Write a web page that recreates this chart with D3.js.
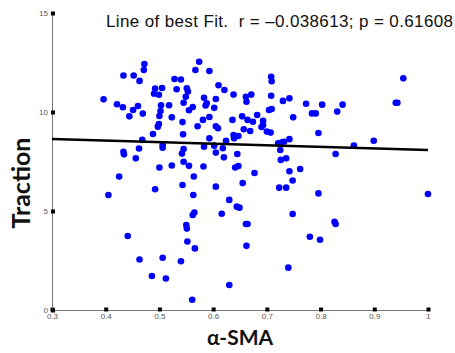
<!DOCTYPE html>
<html>
<head>
<meta charset="utf-8">
<script src="https://cdn.jsdelivr.net/npm/d3@7"></script>
<style>
  body { margin: 0; background: #fff; }
  svg { display: block; }
</style>
</head>
<body>
<div id="chart"></div>
<script>
// alpha-SMA (x) vs traction (y), one entry per cell
var smaValues = [
  0.396, 0.405, 0.421, 0.425, 0.432, 0.433, 0.433, 0.434, 0.441, 0.444,
  0.451, 0.452, 0.456, 0.460, 0.462, 0.463, 0.463, 0.468, 0.469, 0.472,
  0.471, 0.486, 0.488, 0.490, 0.492, 0.492, 0.497, 0.499, 0.500, 0.499,
  0.500, 0.503, 0.502, 0.505, 0.506, 0.506, 0.506, 0.512, 0.518, 0.523,
  0.523, 0.528, 0.532, 0.540, 0.540, 0.543, 0.543, 0.544, 0.542, 0.545,
  0.545, 0.545, 0.549, 0.550, 0.551, 0.551, 0.553, 0.552, 0.555, 0.555,
  0.562, 0.561, 0.562, 0.564, 0.563, 0.565, 0.566, 0.567, 0.571, 0.574,
  0.581, 0.582, 0.583, 0.583, 0.588, 0.586, 0.593, 0.593, 0.593, 0.602,
  0.602, 0.605, 0.605, 0.605, 0.605, 0.609, 0.610, 0.616, 0.618, 0.620,
  0.621, 0.624, 0.630, 0.630, 0.636, 0.638, 0.638, 0.639, 0.641, 0.644,
  0.645, 0.647, 0.647, 0.649, 0.654, 0.655, 0.657, 0.661, 0.662, 0.661,
  0.664, 0.662, 0.664, 0.669, 0.671, 0.674, 0.677, 0.682, 0.690, 0.693,
  0.693, 0.700, 0.707, 0.704, 0.709, 0.708, 0.709, 0.708, 0.721, 0.728,
  0.732, 0.723, 0.725, 0.726, 0.730, 0.736, 0.736, 0.740, 0.742, 0.742,
  0.742, 0.748, 0.748, 0.749, 0.762, 0.773, 0.780, 0.784, 0.791, 0.796,
  0.796, 0.799, 0.803, 0.826, 0.828, 0.828, 0.831, 0.841, 0.862, 0.899,
  0.940, 0.943, 0.954, 1.000
];
var tractionValues = [
  10.64, 5.81, 10.39, 6.74, 10.24, 11.84, 7.99, 7.86, 3.74, 9.78,
  10.10, 11.84, 7.66, 10.30, 8.16, 11.57, 2.55, 8.59, 9.92, 12.42,
  12.12, 1.72, 8.89, 10.92, 11.19, 6.10, 9.26, 10.87, 9.80, 9.39,
  7.20, 10.34, 10.05, 11.21, 8.33, 8.20, 2.64, 1.59, 10.34, 9.73,
  7.30, 11.67, 11.15, 11.64, 2.46, 6.31, 9.49, 8.87, 7.90, 8.13,
  10.47, 7.49, 10.77, 4.29, 4.11, 11.20, 11.03, 3.46, 7.28, 10.09,
  10.25, 0.52, 4.80, 6.74, 5.81, 4.92, 3.11, 12.12, 9.28, 12.54,
  9.60, 7.25, 8.25, 10.72, 10.44, 10.33, 12.07, 9.75, 8.67, 10.21,
  8.30, 7.95, 10.66, 6.23, 9.28, 9.18, 11.35, 4.86, 8.17, 7.71,
  11.11, 8.55, 5.56, 1.26, 9.60, 10.88, 8.84, 8.67, 7.20, 5.22,
  7.88, 8.79, 7.27, 5.17, 9.78, 6.41, 9.13, 10.77, 10.52, 4.34,
  4.34, 3.24, 9.60, 9.04, 10.88, 9.51, 6.92, 9.85, 9.24, 9.56,
  9.34, 9.01, 8.96, 10.10, 10.15, 11.78, 11.55, 10.82, 8.42, 8.47,
  8.50, 6.18, 8.08, 7.58, 10.56, 7.66, 6.18, 2.14, 10.69, 8.63,
  7.01, 6.54, 4.85, 9.73, 7.12, 10.42, 3.70, 9.93, 9.93, 8.94,
  5.89, 3.55, 10.37, 4.46, 4.34, 7.88, 10.02, 10.37, 8.30, 8.55,
  10.47, 10.47, 11.70, 5.86
];

// line of best fit, read at both ends of the x range
var fitX = [0.3, 1.0];
var fitY = [8.64, 8.08];

var xTicks = [0.3, 0.4, 0.5, 0.6, 0.7, 0.8, 0.9, 1];
var yTicks = [0, 5, 10, 15];

var titleText = "Line of best Fit.  r = \u20130.038613; p = 0.61608";
var xTitle = "\u03b1-SMA";
var yTitle = "Traction";

var width = 455, height = 353;
var margin = {left: 52, right: 27, top: 13, bottom: 43};

var svg = d3.select("#chart").append("svg")
    .attr("width", width)
    .attr("height", height);

var x = d3.scaleLinear()
    .domain([0.3, 1])
    .range([margin.left, width - margin.right]);
var y = d3.scaleLinear()
    .domain([0, 15])
    .range([height - margin.bottom, margin.top]);

// axes: plain grey lines, black square ticks drawn by hand below
var xAxis = svg.append("g")
    .attr("transform", "translate(0," + y(0) + ")")
    .call(d3.axisBottom(x).tickValues(xTicks).tickSize(0).tickPadding(3)
        .tickFormat(function(d) { return d === 1 ? "1" : d3.format(".1f")(d); }));
var yAxis = svg.append("g")
    .attr("transform", "translate(" + x(0.3) + ",0)")
    .call(d3.axisLeft(y).tickValues(yTicks).tickSize(0).tickPadding(4));

[xAxis, yAxis].forEach(function(ax) {
    ax.select(".domain").attr("stroke", "#777").attr("stroke-width", 1);
    ax.selectAll("text")
        .attr("fill", "#555")
        .style("font-family", "Liberation Sans, Arial, sans-serif")
        .style("font-size", "8px");
});

xAxis.selectAll(".tick").append("rect")
    .attr("x", -2).attr("y", -2.5)
    .attr("width", 4).attr("height", 4)
    .attr("fill", "#000");
yAxis.selectAll(".tick").append("rect")
    .attr("x", -1).attr("y", -2)
    .attr("width", 4).attr("height", 4)
    .attr("fill", "#000");

// points
svg.append("g")
    .selectAll("circle")
    .data(d3.range(smaValues.length))
    .join("circle")
    .attr("cx", function(i) { return x(smaValues[i]); })
    .attr("cy", function(i) { return y(tractionValues[i]); })
    .attr("r", 3.3)
    .attr("fill", "#0000ff");

// fit line
svg.append("path")
    .datum(d3.zip(fitX, fitY))
    .attr("d", d3.line()
        .x(function(d) { return x(d[0]); })
        .y(function(d) { return y(d[1]); }))
    .attr("fill", "none")
    .attr("stroke", "#000")
    .attr("stroke-width", 2.4);

// titles
svg.append("text")
    .attr("x", 106)
    .attr("y", 27)
    .attr("textLength", 347)
    .attr("lengthAdjust", "spacing")
    .style("white-space", "pre")
    .style("font-family", "Liberation Sans, Arial, sans-serif")
    .style("font-size", "17px")
    .attr("fill", "#111")
    .text(titleText);

svg.append("text")
    .attr("x", 240)
    .attr("y", 345)
    .attr("text-anchor", "middle")
    .style("font-family", "Lato, 'Open Sans', sans-serif")
    .style("font-weight", "bold")
    .style("font-size", "21px")
    .attr("fill", "#111")
    .text(xTitle);

svg.append("text")
    .attr("transform", "translate(30,183)rotate(-90)")
    .attr("text-anchor", "middle")
    .style("font-family", "Lato, 'Open Sans', sans-serif")
    .style("font-weight", "bold")
    .style("font-size", "25px")
    .attr("fill", "#111")
    .text(yTitle);
</script>
</body>
</html>
